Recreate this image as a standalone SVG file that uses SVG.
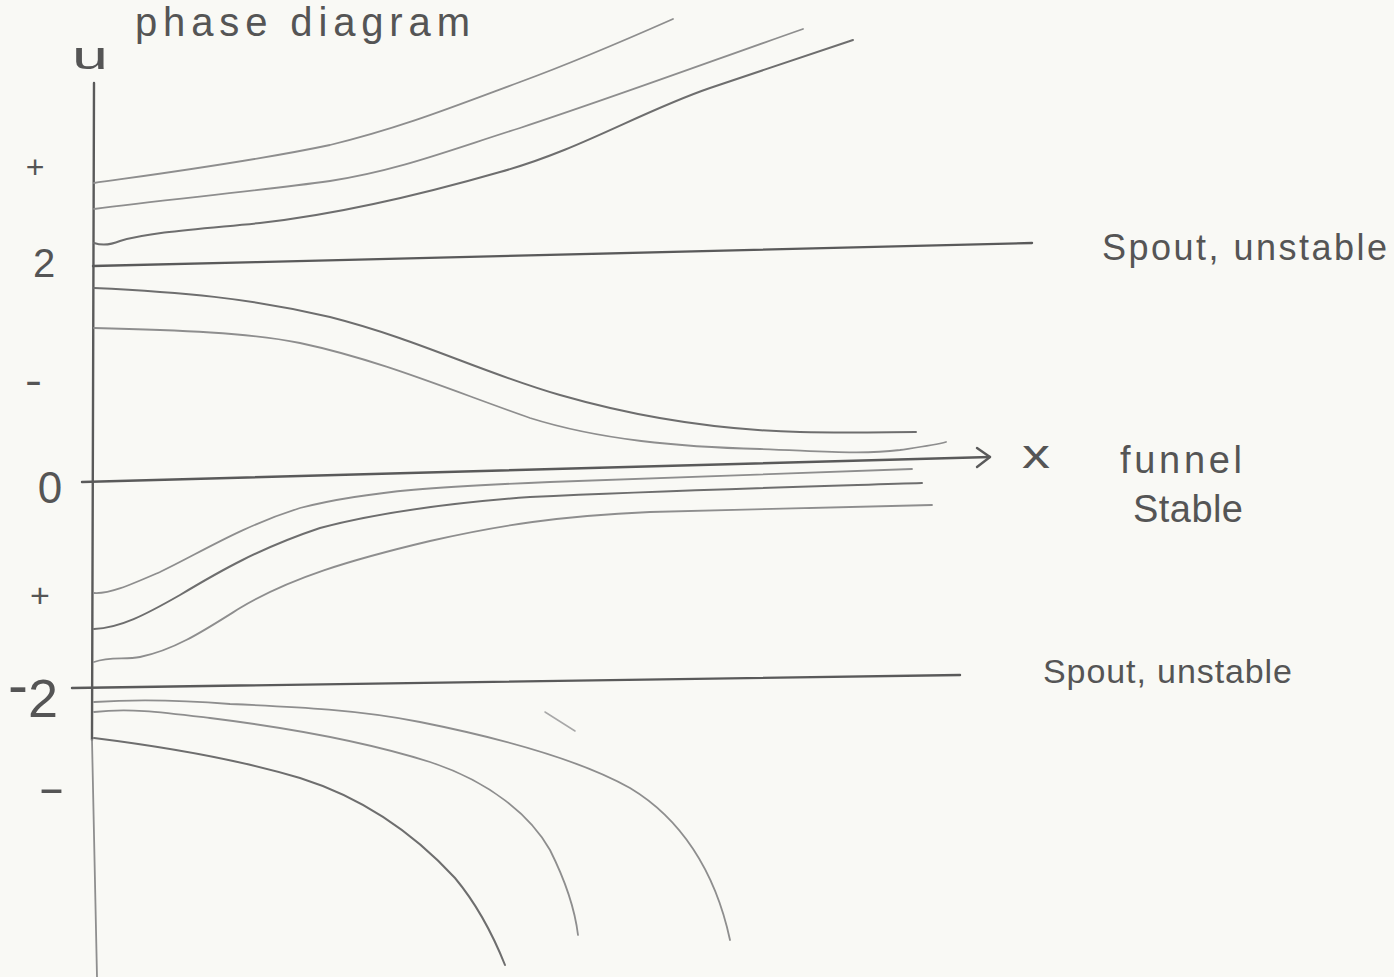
<svg xmlns="http://www.w3.org/2000/svg" width="1394" height="977" viewBox="0 0 1394 977">
<style>
.dark{fill:none;stroke:#5a5a5a;stroke-width:2.4;stroke-linecap:round;stroke-linejoin:round}
.mid{fill:none;stroke:#6e6e6e;stroke-width:2;stroke-linecap:round;stroke-linejoin:round}
.light{fill:none;stroke:#8e8e8e;stroke-width:1.8;stroke-linecap:round;stroke-linejoin:round}
.faint{fill:none;stroke:#a8a8a8;stroke-width:1.5;stroke-linecap:round}
text{font-family:"Liberation Sans","DejaVu Sans",sans-serif;fill:#555}
</style>
<rect x="0" y="0" width="1394" height="977" fill="#f9f9f5"/>
<g id="axes">
  <path class="dark" d="M94,83 L92,740"/>
  <path class="light" d="M92,740 L97,977"/>
  <path class="dark" d="M82,482 L990,457"/>
  <path class="dark" d="M977,448 L990,457 L977,467"/>
</g>
<g id="fixed-lines">
  <path class="dark" d="M93,266 C400,259 700,250 1032,243"/>
  <path class="dark" d="M72,688 C400,683 700,678 960,675"/>
</g>
<g id="trajectories">
  <path class="light" d="M94,183 C150,175 250,162 330,145 C400,128 450,108 520,82 C580,60 630,38 673,19"/>
  <path class="light" d="M94,209 C160,200 250,192 330,181 C400,170 450,150 520,128 C620,95 720,58 803,29"/>
  <path class="mid" d="M94,243 C100,245 108,246 120,241 C150,232 200,229 260,223 C340,214 420,195 500,172 C580,150 640,112 710,88 C770,68 815,53 853,40"/>
  <path class="mid" d="M94,288 C180,292 250,298 330,317 C420,340 480,372 560,395 C640,418 720,430 800,432 C850,433 890,432 916,432"/>
  <path class="light" d="M94,328 C180,330 250,333 300,343 C380,360 450,390 530,418 C600,440 680,447 760,449 C820,451 860,455 900,450 C920,447 935,445 946,442"/>
  <path class="light" d="M94,593 C110,594 130,585 160,572 C200,553 240,527 300,508 C370,490 450,486 550,482 C700,476 830,472 912,469"/>
  <path class="mid" d="M94,629 C120,628 145,615 180,595 C220,571 260,548 320,528 C380,512 450,503 530,497 C680,490 830,486 922,483"/>
  <path class="light" d="M94,662 C110,656 125,660 140,657 C175,650 205,630 240,608 C290,578 350,560 430,541 C500,525 560,516 650,512 C780,508 870,506 932,505"/>
  <path class="light" d="M94,702 C140,699 180,700 230,704 C300,707 360,710 420,722 C500,738 580,760 630,788 C680,818 715,870 730,940"/>
  <path class="light" d="M94,712 C130,708 160,712 210,718 C290,728 370,743 430,762 C490,782 530,815 550,850 C565,880 575,910 578,935"/>
  <path class="mid" d="M94,738 C150,745 230,757 300,778 C370,800 420,840 455,878 C480,908 495,940 505,965"/>
  <path class="faint" d="M545,712 L575,731"/>
</g>
<g id="labels">
  <text x="135" y="36" font-size="40" textLength="335" lengthAdjust="spacing">phase diagram</text>
  <text x="72" y="69" font-size="38" textLength="36" lengthAdjust="spacingAndGlyphs">u</text>
  <text x="35" y="178" font-size="32" text-anchor="middle">+</text>
  <text x="44" y="277" font-size="40" text-anchor="middle">2</text>
  <text x="25" y="394" font-size="40" textLength="17" lengthAdjust="spacingAndGlyphs">-</text>
  <text x="50" y="503" font-size="44" text-anchor="middle">0</text>
  <text x="40" y="607" font-size="34" text-anchor="middle">+</text>
  <text x="8" y="705" font-size="60">-<tspan dy="12" font-size="54">2</tspan></text>
  <text x="38" y="803" font-size="44" textLength="27" lengthAdjust="spacingAndGlyphs">-</text>
  <text x="1022" y="468" font-size="40" textLength="28" lengthAdjust="spacingAndGlyphs">x</text>
  <text x="1102" y="260" font-size="36" textLength="285" lengthAdjust="spacing">Spout, unstable</text>
  <text x="1120" y="473" font-size="38" textLength="122" lengthAdjust="spacing">funnel</text>
  <text x="1133" y="522" font-size="38" textLength="110" lengthAdjust="spacing">Stable</text>
  <text x="1043" y="683" font-size="34" textLength="249" lengthAdjust="spacing">Spout, unstable</text>
</g>
</svg>
